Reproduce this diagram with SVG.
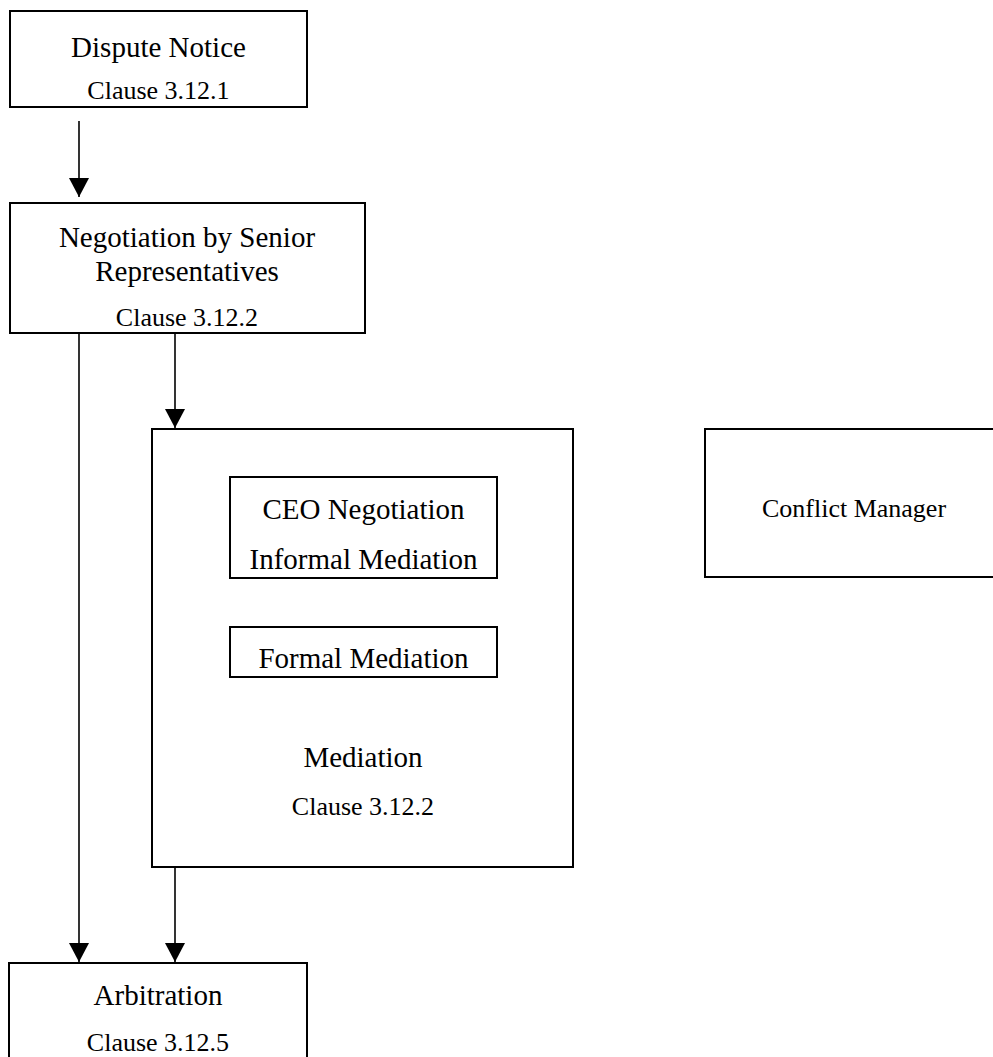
<svg xmlns="http://www.w3.org/2000/svg" width="993" height="1057" viewBox="0 0 993 1057">
<style>
.box{fill:#fff;stroke:#000;stroke-width:2}
.t{font-family:"Liberation Serif","Times New Roman",serif;font-size:29px;fill:#000;text-anchor:middle}
.s{font-family:"Liberation Serif","Times New Roman",serif;font-size:26px;fill:#000;text-anchor:middle}
.c{stroke:#000;stroke-width:1.6;fill:none}
</style>
<defs>
<marker id="arr" markerUnits="userSpaceOnUse" markerWidth="20" markerHeight="20" refX="19" refY="10" orient="auto" viewBox="0 0 20 20">
<path d="M0,0 L19,10 L0,20 z" fill="#000"/>
</marker>
</defs>
<rect width="993" height="1057" fill="#fff"/>
<g id="connectors">
<line class="c" x1="79" y1="121" x2="79" y2="197" marker-end="url(#arr)"/>
<line class="c" x1="79" y1="333" x2="79" y2="962" marker-end="url(#arr)"/>
<line class="c" x1="175" y1="333" x2="175" y2="428" marker-end="url(#arr)"/>
<line class="c" x1="175" y1="867" x2="175" y2="962" marker-end="url(#arr)"/>
</g>
<g id="dispute-notice">
<rect class="box" x="10" y="11" width="297" height="96"/>
<text class="t" x="158.5" y="56.5">Dispute Notice</text>
<text class="s" x="158.5" y="99">Clause 3.12.1</text>
</g>
<g id="negotiation">
<rect class="box" x="10" y="203" width="355" height="130"/>
<text class="t" x="187" y="246.5">Negotiation by Senior</text>
<text class="t" x="187" y="281">Representatives</text>
<text class="s" x="187" y="326">Clause 3.12.2</text>
</g>
<g id="mediation">
<rect class="box" x="152" y="429" width="421" height="438"/>
<text class="t" x="363" y="767">Mediation</text>
<text class="s" x="363" y="815">Clause 3.12.2</text>
</g>
<g id="ceo-negotiation">
<rect class="box" x="230" y="477" width="267" height="101"/>
<text class="t" x="363.5" y="519">CEO Negotiation</text>
<text class="t" x="363.5" y="569">Informal Mediation</text>
</g>
<g id="formal-mediation">
<rect class="box" x="230" y="627" width="267" height="50"/>
<text class="t" x="363.5" y="668">Formal Mediation</text>
</g>
<g id="conflict-manager">
<rect class="box" x="705" y="429" width="300" height="148"/>
<text class="s" x="854" y="517">Conflict Manager</text>
</g>
<g id="arbitration">
<rect class="box" x="9" y="963" width="298" height="110"/>
<text class="t" x="158" y="1005">Arbitration</text>
<text class="s" x="158" y="1051">Clause 3.12.5</text>
</g>
</svg>
